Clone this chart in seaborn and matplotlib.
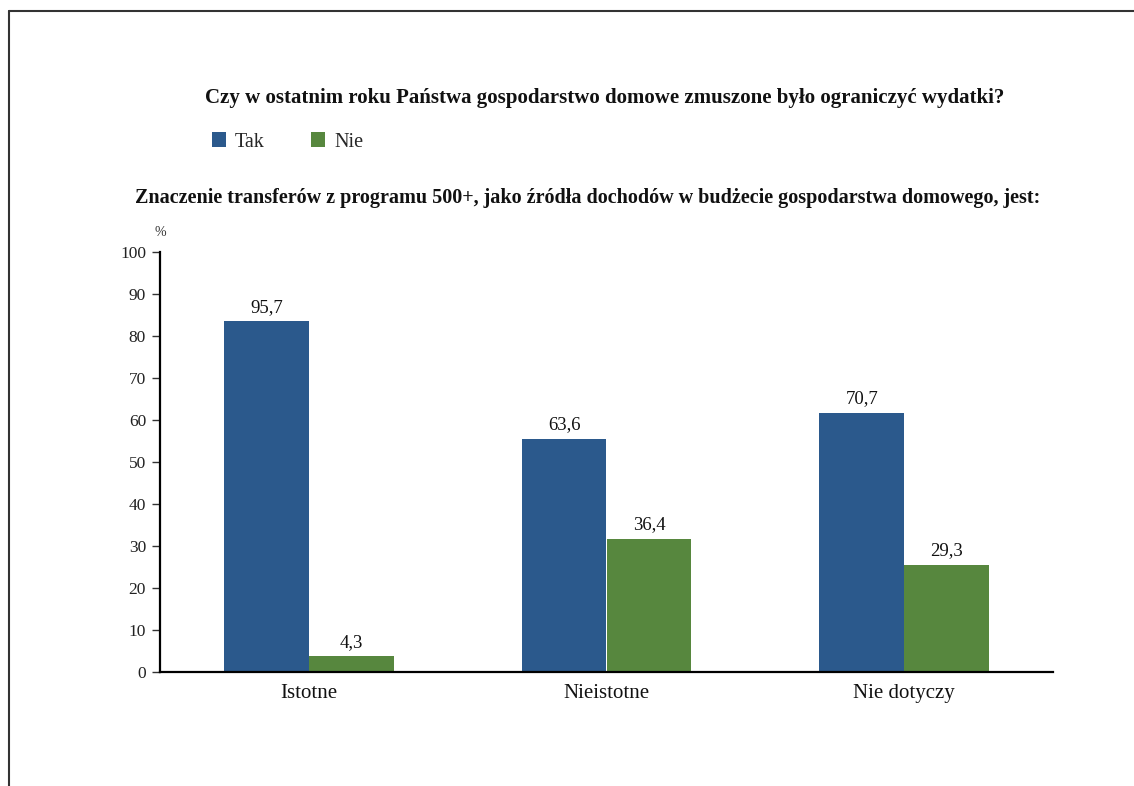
import matplotlib
matplotlib.use("Agg")
import matplotlib.pyplot as plt
import seaborn as sns
import pandas as pd
from matplotlib.lines import Line2D
from matplotlib.patches import Patch

# ---- data ----
categories = ["Istotne", "Nieistotne", "Nie dotyczy"]
series = ["Tak", "Nie"]
# values printed above the bars
tak_labels = [95.7, 63.6, 70.7]
nie_labels = [4.3, 36.4, 29.3]
# bar heights as drawn in the reference (on the 0-100 axis)
tak_heights = [83.5, 55.4, 61.7]
nie_heights = [3.6, 31.6, 25.4]
y_ticks = [0, 10, 20, 30, 40, 50, 60, 70, 80, 90, 100]

title_top = "Czy w ostatnim roku Państwa gospodarstwo domowe zmuszone było ograniczyć wydatki?"
title_chart = "Znaczenie transferów z programu 500+, jako źródła dochodów w budżecie gospodarstwa domowego, jest:"

colors = {"Tak": "#2B598C", "Nie": "#57873E"}

sns.set_theme(style="white")
plt.rcParams["font.family"] = ["Liberation Serif", "DejaVu Serif"]

df = pd.DataFrame({
    "kategoria": categories * 2,
    "odp": ["Tak"] * 3 + ["Nie"] * 3,
    "wys": tak_heights + nie_heights,
})

fig = plt.figure(figsize=(11.34, 7.86), dpi=100)
ax = fig.add_axes([160 / 1134, 1 - 671.5 / 786, (1053 - 160) / 1134, (671.5 - 252) / 786])

sns.barplot(data=df, x="kategoria", y="wys", hue="odp", order=categories,
            hue_order=series, palette=colors, width=0.57, gap=0,
            saturation=1, ax=ax, legend=False, linewidth=0, errorbar=None)

ax.set_xlim(-0.5, 2.5)
ax.set_ylim(0, 100)
ax.set_yticks(y_ticks)
ax.set_yticklabels([str(t) for t in y_ticks])
ax.set_xlabel("")
ax.set_ylabel("")
for s in ["top", "right"]:
    ax.spines[s].set_visible(False)
for s in ["left", "bottom"]:
    ax.spines[s].set_color("black")
    ax.spines[s].set_linewidth(1.6)
ax.tick_params(axis="y", which="both", left=True, length=6, width=1, color="#333333",
               labelsize=12.5, labelcolor="#222222", pad=4)
ax.tick_params(axis="x", bottom=False, labelsize=15, labelcolor="#111111", pad=3)

# value labels
bars = [p for p in ax.patches if p.get_height() > 0]
bars_sorted = sorted(bars, key=lambda p: p.get_x())
labels_in_order = []
for c_i in range(3):
    labels_in_order.append(tak_labels[c_i])
    labels_in_order.append(nie_labels[c_i])
for p, lab in zip(bars_sorted, labels_in_order):
    ax.annotate(f"{lab:.1f}".replace(".", ","),
                (p.get_x() + p.get_width() / 2, p.get_height()),
                xytext=(0, 4), textcoords="offset points",
                ha="center", va="bottom", fontsize=13.5, color="#111111")

# percent sign
fig.text(160 / 1134, 1 - 233 / 786, "%", ha="center", va="center", fontsize=10, color="#333333")

# titles
fig.text(605 / 1134, 1 - 98 / 786, title_top, ha="center", va="center",
         fontsize=15, fontweight="bold", color="#111111")
fig.text(588 / 1134, 1 - 198 / 786, title_chart, ha="center", va="center",
         fontsize=14.5, fontweight="bold", color="#111111")

# legend
handles = [Patch(facecolor=colors[s], edgecolor="none", label=s) for s in series]
fig.legend(handles=handles, loc="center left", bbox_to_anchor=(212 / 1134, 1 - 142 / 786),
           ncol=2, frameon=False, fontsize=14.5, handlelength=0.7, handleheight=0.7,
           handletextpad=0.45, columnspacing=2.3, borderpad=0, borderaxespad=0)

# frame lines
fig.add_artist(Line2D([9 / 1134, 9 / 1134], [0, 1 - 11 / 786], transform=fig.transFigure,
                      color="#333333", linewidth=1.5))
fig.add_artist(Line2D([9 / 1134, 1], [1 - 11 / 786, 1 - 11 / 786], transform=fig.transFigure,
                      color="#333333", linewidth=1.5))

fig.savefig("out.png", dpi=100, facecolor="white")
